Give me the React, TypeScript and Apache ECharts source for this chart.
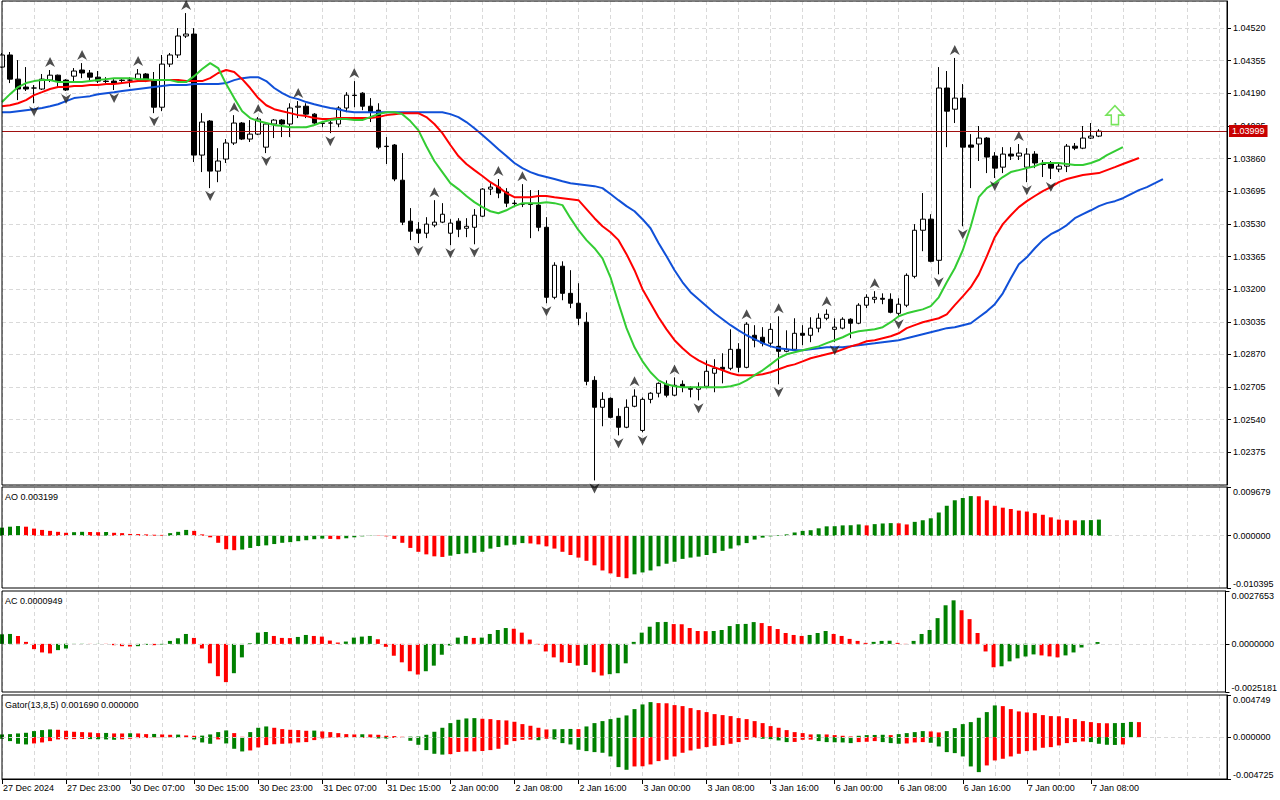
import React, { useEffect, useRef } from "react";
import * as echarts from "echarts";

const FONT = '"Liberation Sans", Arial, sans-serif';
const GREEN = "#008000";
const RED = "#ff0000";
const GRID_LINE = "#d9d9d9";

// x-axis labels, one every 8 hourly bars starting at bar 0
const TIME_LABELS = [
  "27 Dec 2024", "27 Dec 23:00", "30 Dec 07:00", "30 Dec 15:00", "30 Dec 23:00",
  "31 Dec 07:00", "31 Dec 15:00", "2 Jan 00:00", "2 Jan 08:00", "2 Jan 16:00",
  "3 Jan 00:00", "3 Jan 08:00", "3 Jan 16:00", "6 Jan 00:00", "6 Jan 08:00",
  "6 Jan 16:00", "7 Jan 00:00", "7 Jan 08:00",
];
const AXIS_SLOTS = 154;

// price axis
const PRICE_MIN = 1.0221;
const PRICE_MAX = 1.04657;
const PRICE_STEP = 0.00165;
const LAST_PRICE = 1.03999;

// candles: [open, close, low, high]
const CANDLES = [
  [1.04323,1.04384,1.04318,1.04394],[1.04384,1.04262,1.04242,1.04399],[1.04262,1.04212,1.04156,1.04358],
  [1.04222,1.04212,1.04202,1.04323],[1.04217,1.04217,1.0414,1.04232],[1.04212,1.04262,1.04207,1.04288],
  [1.04257,1.04282,1.04247,1.04308],[1.04282,1.04252,1.04222,1.04285],[1.04257,1.04207,1.04202,1.04262],
  [1.04277,1.04303,1.04252,1.04318],[1.04308,1.04293,1.04267,1.04343],[1.04293,1.04272,1.04252,1.04308],
  [1.04272,1.04252,1.04242,1.04303],[1.04252,1.0425,1.04242,1.04272],[1.04252,1.04242,1.04207,1.04262],
  [1.04257,1.04255,1.04242,1.04262],[1.04257,1.04257,1.04222,1.04272],[1.04262,1.04288,1.04257,1.04313],
  [1.04288,1.04262,1.04247,1.04293],[1.04257,1.0412,1.0409,1.04298],[1.0412,1.04338,1.041,1.04384],
  [1.04338,1.04384,1.04323,1.04394],[1.04384,1.0448,1.04369,1.0452],[1.0448,1.0449,1.0447,1.04596],
  [1.0449,1.03878,1.03843,1.0452],[1.03878,1.04045,1.03792,1.0409],[1.0405,1.03797,1.03711,1.04055],
  [1.03797,1.03848,1.03741,1.03913],[1.03858,1.03939,1.03838,1.03959],[1.03939,1.0404,1.03929,1.0408],
  [1.0404,1.03959,1.03954,1.04045],[1.03959,1.03984,1.03944,1.04055],[1.03984,1.0406,1.03979,1.0407],
  [1.03918,1.04035,1.03888,1.0404],[1.04035,1.04055,1.03964,1.0406],[1.04055,1.04035,1.03969,1.0406],
  [1.04035,1.04116,1.03969,1.0414],[1.0412,1.04125,1.04065,1.04151],[1.04125,1.04085,1.04065,1.0414],
  [1.04085,1.0404,1.04035,1.0409],[1.0404,1.04038,1.04019,1.0405],[1.0404,1.0404,1.03989,1.04065],
  [1.04035,1.04116,1.04019,1.04125],[1.04116,1.04181,1.04095,1.04196],[1.04181,1.04179,1.0412,1.04252],
  [1.04191,1.04125,1.04105,1.04196],[1.04125,1.04095,1.04045,1.04166],[1.04105,1.03918,1.03908,1.0414],
  [1.03923,1.03921,1.03833,1.03969],[1.03929,1.03757,1.03746,1.03934],[1.03751,1.03539,1.03524,1.03888],
  [1.03544,1.03493,1.03448,1.0361],[1.03503,1.03483,1.03433,1.03539],[1.03483,1.03529,1.03458,1.03564],
  [1.03524,1.03539,1.03513,1.0365],[1.03539,1.03579,1.03534,1.03635],[1.03483,1.03534,1.03422,1.03554],
  [1.03544,1.03503,1.03463,1.03559],[1.03508,1.03518,1.03463,1.03559],[1.03513,1.03574,1.03427,1.03605],
  [1.03569,1.03706,1.03564,1.03711],[1.03706,1.03716,1.03676,1.03736],[1.03716,1.03686,1.0366,1.03757],
  [1.03691,1.03635,1.03615,1.03711],[1.03635,1.03633,1.03615,1.0365],[1.0363,1.0363,1.03615,1.03731],
  [1.0363,1.03628,1.03458,1.03701],[1.03625,1.03513,1.03493,1.03701],[1.03513,1.03159,1.03129,1.03564],
  [1.03159,1.03321,1.03149,1.03336],[1.03316,1.03179,1.03144,1.03341],[1.03179,1.03129,1.03104,1.03296],
  [1.03129,1.03053,1.03018,1.0323],[1.03033,1.02734,1.02714,1.03083],[1.02739,1.02603,1.02233,1.0276],
  [1.02603,1.02643,1.02507,1.02679],[1.02648,1.02552,1.02547,1.02653],[1.02557,1.02502,1.02461,1.02598],
  [1.02502,1.02603,1.02497,1.02643],[1.02608,1.02659,1.02603,1.02694],[1.02486,1.02643,1.02476,1.02653],
  [1.02643,1.02674,1.02623,1.02679],[1.02674,1.02724,1.02653,1.02729],[1.02719,1.02664,1.02653,1.02739],
  [1.02664,1.02714,1.02659,1.02754],[1.02719,1.02704,1.02679,1.02739],[1.02699,1.02694,1.02653,1.02709],
  [1.02694,1.02704,1.02638,1.02729],[1.02709,1.02785,1.02699,1.0284],[1.02775,1.028,1.02679,1.02846],
  [1.02805,1.02795,1.02724,1.02876],[1.028,1.02896,1.0279,1.02997],[1.02896,1.02805,1.0278,1.02927],
  [1.02805,1.03023,1.028,1.03033],[1.02967,1.02942,1.02906,1.03018],[1.02957,1.02927,1.02911,1.03008],
  [1.02927,1.02997,1.02906,1.03028],[1.02911,1.02886,1.02719,1.03063],[1.02886,1.02896,1.02881,1.02992],
  [1.02896,1.02977,1.02891,1.03053],[1.02977,1.02967,1.02917,1.03018],[1.02967,1.03003,1.02932,1.03058],
  [1.03003,1.03053,1.02982,1.03078],[1.03053,1.03073,1.03043,1.03098],[1.02997,1.03008,1.02932,1.03053],
  [1.03003,1.03048,1.02997,1.03058],[1.03048,1.03028,1.02952,1.03053],[1.03028,1.03119,1.03023,1.03129],
  [1.03119,1.03159,1.03104,1.03174],[1.03149,1.03159,1.03129,1.0319],[1.03154,1.03149,1.03124,1.03179],
  [1.03149,1.03083,1.03078,1.03179],[1.03078,1.03124,1.03063,1.03154],[1.03119,1.0327,1.03109,1.0328],
  [1.03265,1.03498,1.03255,1.03529],[1.03498,1.03554,1.03392,1.03686],[1.03554,1.03341,1.03336,1.03579],
  [1.03346,1.04217,1.03275,1.04323],[1.04217,1.041,1.03918,1.04303],[1.0411,1.04166,1.0404,1.04369],
  [1.04166,1.03918,1.03518,1.04237],[1.03929,1.03918,1.03711,1.03984],[1.03934,1.03964,1.03848,1.04025],
  [1.03964,1.03868,1.03787,1.03969],[1.03873,1.03812,1.03762,1.03893],[1.03817,1.03883,1.03787,1.03918],
  [1.03883,1.03873,1.03853,1.03918],[1.03873,1.03888,1.03853,1.03934],[1.03817,1.03883,1.03741,1.03913],
  [1.03883,1.03838,1.03812,1.03898],[1.03833,1.03831,1.03767,1.03853],[1.03838,1.03812,1.03757,1.03848],
  [1.03807,1.03822,1.03792,1.03843],[1.03822,1.03923,1.03792,1.03934],[1.03923,1.03913,1.03903,1.03939],
  [1.03913,1.03964,1.03908,1.04025],[1.03964,1.03974,1.03959,1.0404],[1.03974,1.03999,1.03969,1.04009],
];

// Alligator lines (already shifted forward: jaw 8, teeth 5, lips 3 bars)
const JAW = [
  1.04095,1.04095,1.041,1.04105,1.0411,1.04116,1.04125,1.04135,1.04151,1.04166,
  1.04171,1.04176,1.04186,1.04191,1.04196,1.04202,1.04207,1.04212,1.04217,1.04222,
  1.04227,1.04232,1.04232,1.04232,1.04237,1.04237,1.04237,1.04237,1.04242,1.04257,
  1.04267,1.04272,1.04272,1.04252,1.04217,1.04191,1.04171,1.04161,1.04146,1.04135,
  1.04125,1.04116,1.0411,1.041,1.04095,1.04095,1.04095,1.04095,1.04095,1.04095,
  1.04095,1.04095,1.04095,1.04095,1.04095,1.04095,1.04085,1.0407,1.04045,1.04014,
  1.03979,1.03944,1.03908,1.03873,1.03838,1.03812,1.03792,1.03777,1.03767,1.03757,
  1.03746,1.03736,1.03731,1.03726,1.03721,1.03711,1.03681,1.0365,1.0362,1.03594,
  1.03554,1.03508,1.03433,1.03366,1.03296,1.03235,1.03185,1.03149,1.03114,1.03078,
  1.03048,1.03018,1.02992,1.02967,1.02947,1.02927,1.02911,1.02901,1.02896,1.02891,
  1.02891,1.02896,1.02901,1.02906,1.02906,1.02906,1.02911,1.02917,1.02922,1.02927,
  1.02932,1.02937,1.02942,1.02952,1.02962,1.02972,1.02982,1.02992,1.03003,1.03008,
  1.03018,1.03028,1.03058,1.03088,1.03124,1.03179,1.03255,1.03326,1.03361,1.03407,
  1.03448,1.03478,1.03498,1.03524,1.03559,1.03579,1.03599,1.0362,1.03635,1.03645,
  1.0366,1.03681,1.03701,1.03716,1.03736,1.03757,
];
const TEETH = [
  1.04125,1.0413,1.0414,1.04156,1.04181,1.04196,1.04212,1.04222,1.04222,1.04227,
  1.04227,1.04232,1.04232,1.04237,1.04237,1.04242,1.04247,1.04252,1.04252,1.04257,
  1.04257,1.04257,1.04257,1.04252,1.04252,1.04252,1.04267,1.04293,1.04308,1.04298,
  1.04262,1.04217,1.04166,1.0413,1.0411,1.041,1.0409,1.0408,1.04075,1.04065,
  1.0406,1.0406,1.04065,1.04065,1.04065,1.04065,1.04065,1.0407,1.0408,1.04085,
  1.0409,1.0409,1.0409,1.0407,1.04035,1.03989,1.03929,1.03873,1.03833,1.03802,
  1.03772,1.03741,1.03716,1.03686,1.03665,1.03665,1.03665,1.03671,1.03671,1.03665,
  1.0366,1.03655,1.0365,1.03605,1.03559,1.03518,1.03488,1.03448,1.03377,1.03296,
  1.032,1.03129,1.03058,1.02997,1.02942,1.02901,1.02866,1.0284,1.0282,1.02805,
  1.0279,1.02775,1.02765,1.02765,1.02765,1.0277,1.0278,1.02795,1.0281,1.0282,
  1.02835,1.02851,1.02861,1.02871,1.02881,1.02896,1.02911,1.02922,1.02937,1.02942,
  1.02952,1.02962,1.02977,1.03003,1.03018,1.03033,1.03043,1.03053,1.03073,1.03119,
  1.03164,1.0321,1.03275,1.03366,1.03463,1.03529,1.03574,1.03615,1.03645,1.03671,
  1.03696,1.03716,1.03741,1.03757,1.03767,1.03777,1.03782,1.03787,1.03802,1.03817,
  1.03833,1.03848,1.03863,
];
const LIPS = [
  1.04146,1.04186,1.04222,1.04242,1.04252,1.04257,1.04257,1.04247,1.04247,1.04247,
  1.04247,1.04252,1.04257,1.04262,1.04267,1.04267,1.04267,1.04262,1.04262,1.04257,
  1.04257,1.04257,1.04247,1.04247,1.04277,1.04313,1.04343,1.04318,1.04237,1.04166,
  1.041,1.04065,1.0405,1.0404,1.0403,1.04025,1.04019,1.04019,1.04019,1.0403,
  1.04045,1.04055,1.0406,1.0406,1.04055,1.04055,1.0407,1.04085,1.04095,1.04095,
  1.04085,1.0405,1.04004,1.03923,1.03848,1.03792,1.03736,1.03706,1.03671,1.0364,
  1.03615,1.03594,1.03584,1.03599,1.0362,1.03635,1.03635,1.03635,1.0364,1.03635,
  1.03625,1.03559,1.03498,1.03448,1.03407,1.03356,1.0326,1.03129,1.03003,1.02906,
  1.02835,1.0278,1.02739,1.02719,1.02709,1.02704,1.02704,1.02704,1.02704,1.02704,
  1.02704,1.02709,1.02719,1.02739,1.02765,1.0279,1.0282,1.02851,1.02871,1.02881,
  1.02891,1.02901,1.02911,1.02927,1.02942,1.02957,1.02977,1.02987,1.02992,1.02997,
  1.03008,1.03033,1.03063,1.03078,1.03088,1.03098,1.03114,1.03159,1.03235,1.03306,
  1.03397,1.03518,1.03665,1.03711,1.03736,1.03767,1.03792,1.03802,1.03812,1.03822,
  1.03838,1.03838,1.03838,1.03833,1.03828,1.03828,1.03838,1.03853,1.03878,1.03898,
  1.03918,
];

// Fractal bars (marked above the high / below the low)
const FRACTAL_UP = [6, 10, 17, 23, 29, 32, 37, 44, 54, 62, 65, 79, 84, 93, 97, 103, 109, 119, 127];
const FRACTAL_DOWN = [4, 8, 14, 19, 26, 33, 41, 52, 56, 59, 68, 74, 77, 80, 87, 97, 104, 112, 117, 120, 124, 128, 131];
// Buy signal arrow: [bar, price]
const SIGNAL_UP = [[139, 1.0408]];

// Awesome Oscillator
const AO = [
  0.0016,0.00179,0.00192,0.00179,0.00141,0.00115,0.00096,0.00077,0.00058,0.0007,
  0.00077,0.00074,0.0007,0.00074,0.00058,0.00051,0.00035,0.00032,0.00026,0.00019,
  0.00016,0.00051,0.00077,0.00115,0.00096,0.00026,-0.00032,-0.00141,-0.00269,-0.00288,
  -0.00275,-0.00243,-0.00205,-0.00192,-0.00166,-0.00141,-0.00128,-0.00109,-0.0009,-0.0007,
  -0.00058,-0.00064,-0.0007,-0.00051,-0.00032,-0.00013,0.00006,-0.00006,-0.00013,-0.00064,
  -0.00141,-0.00243,-0.0032,-0.00371,-0.0041,-0.00422,-0.00397,-0.00365,-0.00352,-0.00339,
  -0.0032,-0.00256,-0.00224,-0.00192,-0.00179,-0.00147,-0.00154,-0.00173,-0.00211,-0.00256,
  -0.0032,-0.00384,-0.00435,-0.00499,-0.00589,-0.00691,-0.00749,-0.00819,-0.00845,-0.00768,
  -0.0073,-0.00691,-0.00608,-0.00557,-0.00518,-0.00461,-0.00435,-0.00416,-0.00384,-0.00346,
  -0.00301,-0.00256,-0.00192,-0.00147,-0.00077,-0.00038,-0.00013,0.00013,0.00026,0.00064,
  0.00096,0.00109,0.00147,0.00186,0.00189,0.00205,0.00208,0.00224,0.00205,0.0023,
  0.00243,0.0025,0.00246,0.00224,0.00275,0.00307,0.00346,0.00461,0.00595,0.00704,
  0.00749,0.00787,0.00784,0.00704,0.00595,0.00557,0.00531,0.00499,0.0048,0.00448,
  0.00416,0.00365,0.0032,0.00307,0.00304,0.00307,0.0031,0.003199,
];
const AO_MIN = -0.010395;
const AO_MAX = 0.009679;

// Accelerator Oscillator
const AC = [
  0.0005,0.000518,0.000414,0.000104,-0.000276,-0.000449,-0.0005,-0.000328,-0.000242,-0.0000345,
  0.0000086,-0.0000052,0.0000052,-0.0000086,-0.000069,-0.000121,-0.000138,-0.000121,-0.0000518,-0.000069,
  -0.0000345,0.000155,0.000293,0.000518,0.000311,-0.000242,-0.001018,-0.001691,-0.002001,-0.001535,
  -0.000707,0.0000345,0.000587,0.000621,0.000414,0.000311,0.000302,0.000362,0.000466,0.000414,
  0.00038,0.000173,0.000069,0.000121,0.000328,0.00038,0.000414,0.000242,-0.000155,-0.000621,
  -0.000966,-0.001432,-0.001604,-0.001432,-0.001139,-0.000569,-0.0000863,0.000328,0.000414,0.000311,
  0.000328,0.000518,0.000725,0.000828,0.000794,0.000587,0.000224,-0.0000345,-0.000397,-0.000707,
  -0.000966,-0.001001,-0.001139,-0.001104,-0.001484,-0.001656,-0.001587,-0.001535,-0.001018,0.000104,
  0.000587,0.000897,0.001139,0.001147,0.001035,0.001026,0.000828,0.000673,0.000664,0.000673,
  0.000725,0.000932,0.001035,0.001044,0.001139,0.001087,0.000932,0.000776,0.000569,0.000466,
  0.000414,0.000466,0.000569,0.000673,0.000518,0.000414,0.000259,0.000155,0.0000518,0.000104,
  0.000155,0.000164,0.0000518,-0.0000173,0.000155,0.000518,0.000725,0.001346,0.002018,0.002277,
  0.00176,0.001294,0.000569,-0.000397,-0.001225,-0.001173,-0.000914,-0.000759,-0.000656,-0.000552,
  -0.000604,-0.000656,-0.000707,-0.000604,-0.000449,-0.00019,-0.0000345,0.0000949,
];
const AC_MIN = -0.0025181;
const AC_MAX = 0.0027653;

// Gator oscillator: upper = |jaw - teeth|, lower = -|teeth - lips|
const GATOR_UP = [
  0.000301,0.000338,0.000414,0.000489,0.000677,0.00079,0.000865,0.000827,0.000714,0.000602,
  0.000564,0.000526,0.000451,0.00047,0.000414,0.00041,0.000432,0.000414,0.000338,0.000357,
  0.000301,0.000263,0.000282,0.000188,0.00015,0.000169,0.000301,0.000564,0.000752,0.000451,
  0.000038,0.000564,0.001053,0.001203,0.001053,0.000902,0.000827,0.00079,0.000714,0.000733,
  0.000639,0.000564,0.000451,0.000338,0.000301,0.00032,0.000301,0.000263,0.00015,0.000113,
  0.000038,0.000056,0.000075,0.000263,0.000602,0.001053,0.001579,0.001955,0.002106,0.002143,
  0.002068,0.00203,0.001918,0.00188,0.00173,0.001466,0.001278,0.001053,0.000865,0.000884,
  0.000902,0.000921,0.000902,0.001203,0.001579,0.001805,0.00203,0.002181,0.002444,0.003158,
  0.003685,0.003948,0.003835,0.003816,0.00361,0.003497,0.003271,0.003046,0.00282,0.002594,
  0.002482,0.002369,0.002143,0.00203,0.001805,0.001579,0.001241,0.001053,0.00079,0.000564,
  0.000451,0.000301,0.00032,0.000301,0.000226,0.00015,0.000075,0.00015,0.000226,0.000244,
  0.000263,0.000226,0.000338,0.000451,0.000564,0.000677,0.000639,0.000526,0.000677,0.001015,
  0.001466,0.001692,0.002181,0.00282,0.003572,0.003497,0.003158,0.002895,0.002782,0.002707,
  0.002482,0.002369,0.00235,0.002143,0.00203,0.001805,0.001692,0.001579,0.00156,0.001579,
  0.001598,0.001711,0.00169,
];
const GATOR_DOWN = [
  -0.000188,-0.000451,-0.000752,-0.000827,-0.000714,-0.000602,-0.000451,-0.000263,-0.000244,-0.000226,
  -0.000207,-0.000226,-0.000244,-0.000263,-0.000301,-0.000244,-0.000188,-0.000113,-0.000094,-0.000038,
  -0.000019,-0.000026,-0.000094,-0.000056,-0.000263,-0.000602,-0.000752,-0.000263,-0.000714,-0.001316,
  -0.001617,-0.001504,-0.001166,-0.000902,-0.000808,-0.000752,-0.000714,-0.000602,-0.000564,-0.000338,
  -0.00015,-0.000056,-0.000045,-0.000053,-0.000102,-0.000098,-0.000049,-0.00015,-0.000158,-0.000102,
  -0.000049,-0.000414,-0.000865,-0.001466,-0.00188,-0.001974,-0.001918,-0.001673,-0.001617,-0.001609,
  -0.001568,-0.001466,-0.001316,-0.000865,-0.000451,-0.000301,-0.000282,-0.000353,-0.000188,-0.000263,
  -0.000677,-0.000827,-0.001429,-0.001579,-0.001692,-0.001767,-0.002181,-0.003384,-0.003685,-0.003309,
  -0.00329,-0.003083,-0.002707,-0.002557,-0.002181,-0.001767,-0.001504,-0.001316,-0.001128,-0.000978,
  -0.000902,-0.000752,-0.000564,-0.000301,-0.000075,-0.000188,-0.000226,-0.000376,-0.000564,-0.000545,
  -0.000301,-0.000282,-0.000451,-0.000564,-0.000583,-0.000602,-0.000677,-0.000564,-0.000526,-0.000451,
  -0.000564,-0.000677,-0.000752,-0.000714,-0.000602,-0.000564,-0.000639,-0.001053,-0.001692,-0.001805,
  -0.002181,-0.003309,-0.003948,-0.003196,-0.002632,-0.002444,-0.002181,-0.00188,-0.001579,-0.001504,
  -0.001203,-0.001128,-0.00094,-0.000677,-0.000564,-0.000489,-0.000564,-0.000752,-0.000865,-0.000884,
  -0.000827,
];
const GATOR_MIN = -0.004725;
const GATOR_MAX = 0.004749;

const FRACTAL_UP_PATH = "path://M5 0L10 10L5 7L0 10Z";
const FRACTAL_DOWN_PATH = "path://M0 0L5 3L10 0L5 10Z";
const SIGNAL_PATH = "path://M10 0L20 10L14 10L14 20L6 20L6 10L0 10Z";

function colored(values: number[], useAbs: boolean) {
  return values.map((v, i) => {
    const cur = useAbs ? Math.abs(v) : v;
    const prev = i === 0 ? cur : useAbs ? Math.abs(values[i - 1]) : values[i - 1];
    return { value: v, itemStyle: { color: cur >= prev ? GREEN : RED } };
  });
}

function zeroLine() {
  return {
    silent: true,
    symbol: ["none", "none"],
    animation: false,
    data: [{ yAxis: 0, lineStyle: { color: GRID_LINE, type: [4, 3], width: 1 } }],
    lineStyle: { type: [4, 3], color: GRID_LINE, width: 1, opacity: 1 },
    emphasis: { disabled: true },
    label: { show: false },
  };
}

function buildOption() {
  const cats = Array.from({ length: AXIS_SLOTS }, (_, i) => String(i));
  const gridTops = [1, 487, 591, 695];
  const gridHeights = [484, 101, 101, 84];
  const splitX = (i: number) => i % 4 === 0;
  const labelIdx = (i: number) => i % 8 === 0 && i / 8 < TIME_LABELS.length;

  const grids = gridTops.map((t, k) => ({
    left: 2,
    right: 53,
    top: t,
    height: gridHeights[k],
    show: true,
    z: 10,
    backgroundColor: "transparent",
    borderColor: "#000",
    borderWidth: 1,
  }));

  const xAxes = gridTops.map((_, k) => ({
    type: "category",
    gridIndex: k,
    position: "bottom",
    data: cats,
    boundaryGap: false,
    axisLine: { show: k === 3, onZero: false, lineStyle: { color: "#000", width: 1 } },
    axisTick: {
      show: k === 3,
      interval: (i: number) => labelIdx(i),
      length: 5,
      lineStyle: { color: "#000" },
    },
    axisLabel: {
      show: k === 3,
      interval: (i: number) => labelIdx(i),
      formatter: (_v: string, i: number) => (labelIdx(i) ? TIME_LABELS[i / 8] : ""),
      align: "left",
      margin: 4,
      fontSize: 9,
      fontFamily: FONT,
      color: "#000",
      padding: [0, 0, 0, 1],
    },
    splitLine: {
      show: true,
      interval: (i: number) => splitX(i),
      lineStyle: { type: [4, 3], color: GRID_LINE, width: 1 },
    },
  }));

  const subAxis = (k: number, min: number, max: number, digits: number) => {
    const marks = [min, 0, max];
    const isMark = (v: number) => marks.some((m) => Math.abs(m - v) < 1e-9);
    return {
      type: "value",
      gridIndex: k,
      position: "right",
      min,
      max,
      interval: -min,
      axisLine: { show: true, lineStyle: { color: "#000" } },
      axisTick: { show: true, length: 4, customValues: marks, lineStyle: { color: "#000" } },
      axisLabel: {
        customValues: marks,
        formatter: (v: number) => (isMark(v) ? v.toFixed(digits) : ""),
        margin: 6,
        fontSize: 9,
        fontFamily: FONT,
        color: "#000",
        verticalAlignMaxLabel: "top",
        verticalAlignMinLabel: "bottom",
      },
      splitLine: { show: false },
    };
  };

  const yAxes = [
    {
      type: "value",
      gridIndex: 0,
      position: "right",
      min: PRICE_MIN,
      max: PRICE_MAX,
      interval: PRICE_STEP,
      axisLine: { show: true, lineStyle: { color: "#000" } },
      axisTick: { show: true, length: 4, lineStyle: { color: "#000" } },
      axisLabel: {
        formatter: (v: number) => v.toFixed(5),
        showMinLabel: false,
        showMaxLabel: false,
        margin: 6,
        fontSize: 9,
        fontFamily: FONT,
        color: "#000",
      },
      splitLine: { show: true, lineStyle: { type: [4, 3], color: GRID_LINE } },
    },
    subAxis(1, AO_MIN, AO_MAX, 6),
    subAxis(2, AC_MIN, AC_MAX, 7),
    subAxis(3, GATOR_MIN, GATOR_MAX, 6),
  ];

  const lineSeries = (data: number[], color: string) => ({
    type: "line",
    xAxisIndex: 0,
    yAxisIndex: 0,
    data,
    showSymbol: false,
    symbol: "none",
    silent: true,
    lineStyle: { color, width: 2 },
    z: 3,
  });

  const series: any[] = [
    {
      type: "candlestick",
      xAxisIndex: 0,
      yAxisIndex: 0,
      data: CANDLES,
      barWidth: 5,
      silent: true,
      itemStyle: {
        color: "#ffffff",
        color0: "#000000",
        borderColor: "#000000",
        borderColor0: "#000000",
        borderWidth: 1,
      },
      markLine: {
        silent: true,
        symbol: "none",
        animation: false,
        data: [{ yAxis: LAST_PRICE }],
        lineStyle: { color: "#a01010", width: 1, type: "solid" },
        label: {
          show: true,
          position: "end",
          distance: 2,
          formatter: () => LAST_PRICE.toFixed(5),
          color: "#ffffff",
          backgroundColor: "#c80000",
          padding: [2, 3, 1, 3],
          fontSize: 9,
          fontFamily: FONT,
        },
      },
      z: 2,
    },
    lineSeries(JAW, "#1050d8"),
    lineSeries(TEETH, "#ff0000"),
    lineSeries(LIPS, "#33cc33"),
    {
      type: "scatter",
      xAxisIndex: 0,
      yAxisIndex: 0,
      silent: true,
      symbol: FRACTAL_UP_PATH,
      symbolSize: [10, 10],
      symbolOffset: [0, -8],
      itemStyle: { color: "#222222" },
      data: FRACTAL_UP.map((i) => [i, CANDLES[i][3]]),
      z: 4,
    },
    {
      type: "scatter",
      xAxisIndex: 0,
      yAxisIndex: 0,
      silent: true,
      symbol: FRACTAL_DOWN_PATH,
      symbolSize: [10, 10],
      symbolOffset: [0, 8],
      itemStyle: { color: "#222222" },
      data: FRACTAL_DOWN.map((i) => [i, CANDLES[i][2]]),
      z: 4,
    },
    {
      type: "scatter",
      xAxisIndex: 0,
      yAxisIndex: 0,
      silent: true,
      symbol: SIGNAL_PATH,
      symbolSize: [18, 19],
      itemStyle: { color: "rgba(255,255,255,0)", borderColor: "#55dd33", borderWidth: 1.5 },
      data: SIGNAL_UP,
      z: 4,
    },
    {
      type: "bar",
      xAxisIndex: 1,
      yAxisIndex: 1,
      silent: true,
      barWidth: 4,
      data: colored(AO, false),
      markLine: zeroLine(),
    },
    {
      type: "bar",
      xAxisIndex: 2,
      yAxisIndex: 2,
      silent: true,
      barWidth: 4,
      data: colored(AC, false),
      markLine: zeroLine(),
    },
    {
      type: "bar",
      xAxisIndex: 3,
      yAxisIndex: 3,
      silent: true,
      barWidth: 4,
      barGap: "-100%",
      data: colored(GATOR_UP, true),
    },
    {
      type: "bar",
      xAxisIndex: 3,
      yAxisIndex: 3,
      silent: true,
      barWidth: 4,
      barGap: "-100%",
      data: colored(GATOR_DOWN, true),
      markLine: zeroLine(),
    },
  ];

  const titleStyle = { fill: "#000", fontSize: 9, fontFamily: FONT, verticalAlign: "middle" };
  const graphic = [
    { type: "text", x: 5, y: 497, z: 20, style: { ...titleStyle, text: `AO ${AO[AO.length - 1].toFixed(6)}` } },
    { type: "text", x: 5, y: 601, z: 20, style: { ...titleStyle, text: `AC ${AC[AC.length - 1].toFixed(7)}` } },
    {
      type: "text",
      x: 5,
      y: 705,
      z: 20,
      style: {
        ...titleStyle,
        text: `Gator(13,8,5) ${GATOR_UP[GATOR_UP.length - 1].toFixed(6)} ${(0).toFixed(6)}`,
      },
    },
  ];

  return {
    animation: false,
    backgroundColor: "#ffffff",
    textStyle: { fontFamily: FONT },
    grid: grids,
    xAxis: xAxes,
    yAxis: yAxes,
    series,
    graphic,
  };
}

export default function App() {
  const ref = useRef<HTMLDivElement>(null);
  useEffect(() => {
    document.body.style.margin = "0";
    const el = ref.current;
    if (!el) return;
    const chart = echarts.init(el, undefined, { renderer: "svg" });
    chart.setOption(buildOption() as any);
    return () => {
      chart.dispose();
    };
  }, []);
  return <div ref={ref} style={{ width: 1280, height: 800, background: "#fff" }} />;
}
